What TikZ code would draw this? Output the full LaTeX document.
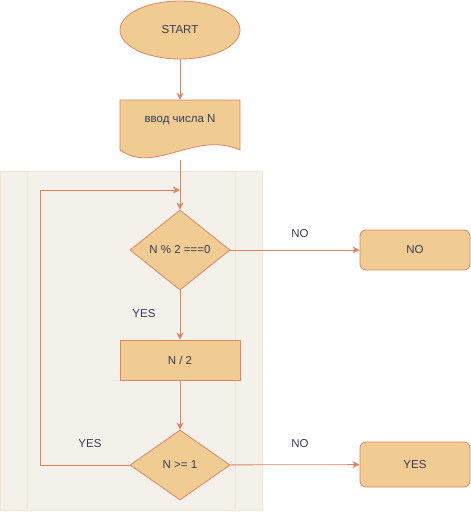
\documentclass[tikz,border=0pt]{standalone}
\usepackage{fontspec}
\setmainfont{Liberation Sans}
\usetikzlibrary{shapes.geometric}
\usetikzlibrary{arrows.meta}
\definecolor{boxfill}{HTML}{F0CC93}
\definecolor{boxline}{HTML}{DD8466}
\definecolor{boxtext}{HTML}{393C56}
\definecolor{panelfill}{HTML}{F4F1EA}
\definecolor{panelline}{HTML}{EEE6D2}
\begin{document}
\begin{tikzpicture}[x=1pt,y=-1pt,
  txt/.style={font=\fontsize{11.5}{13}\selectfont,text=boxtext},
  box/.style={txt,draw=boxline,fill=boxfill,line width=0.8pt,inner sep=0pt},
  flow/.style={draw=boxline,line width=0.8pt,-{Stealth[length=7pt,width=7pt,inset=2pt]}}]
\useasboundingbox (0,0) rectangle (471,514);
\draw[fill=panelfill,draw=panelline,line width=1pt] (0,171) rectangle (262,510);
\draw[panelline,line width=1pt] (27,171) -- (27,510);
\draw[panelline,line width=1pt] (235,171) -- (235,510);

\node[box,ellipse,minimum width=120pt,minimum height=58pt] (start) at (180,30) {START};
\draw[fill=boxfill,draw=boxline,line width=0.8pt] (120,100) -- (240,100) -- (240,150)
  .. controls (195,130) and (155,175) .. (120,150) -- cycle;
\node[txt,minimum width=120pt,minimum height=60pt,inner sep=0pt] (doc) at (180,130) {};
\node[txt] (doctext) at (180,120) {ввод числа N};
\node[box,diamond,minimum width=100pt,minimum height=80pt] (even) at (180,250) {N \% 2 ===0};
\node[box,rectangle,minimum width=120pt,minimum height=40pt] (half) at (180,360) {N / 2};
\node[box,diamond,minimum width=100pt,minimum height=70pt] (check) at (180,465) {N >= 1};
\node[box,rectangle,rounded corners=6pt,minimum width=110pt,minimum height=40pt] (no) at (415,250) {NO};
\node[box,rectangle,rounded corners=6pt,minimum width=110pt,minimum height=45pt] (yes) at (415,464.5) {YES};
\coordinate (loopend) at (180,190);

\draw[flow] (start) -- (doc);
\draw[flow] (doc) -- (even);
\draw[flow] (even) -- (no);
\draw[flow] (even) -- (half);
\draw[flow] (half) -- (check);
\draw[flow] (check) -- (yes);
\draw[flow] (check.west) -- (40,465) -- (40,190) -- (loopend);

\node[txt] (lblno1) at (300,234) {NO};
\node[txt] (lblyes1) at (144,314) {YES};
\node[txt] (lblyes2) at (90,444) {YES};
\node[txt] (lblno2) at (300,444) {NO};
\end{tikzpicture}
\end{document}
